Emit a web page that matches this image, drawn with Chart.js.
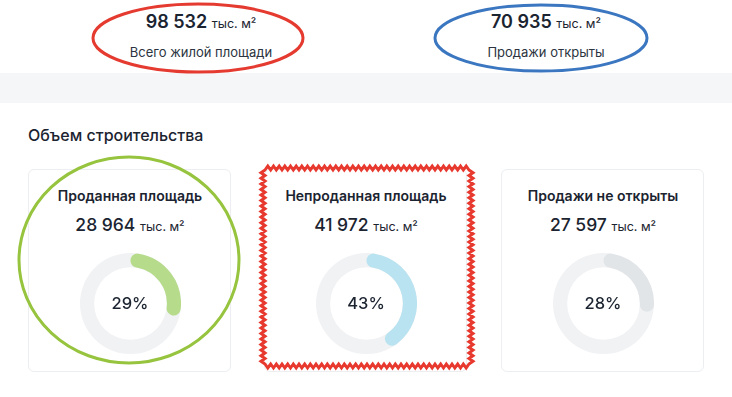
<!DOCTYPE html>
<html lang="ru">
<head>
<meta charset="utf-8">
<title>Объем строительства</title>
<script src="https://cdn.jsdelivr.net/npm/chart.js@4.4.0/dist/chart.umd.min.js"></script>
<style>
    html, body {
        margin: 0;
        padding: 0;
        width: 732px;
        height: 397px;
        background: #ffffff;
        font-family: Inter, Roboto, "Noto Sans", sans-serif;
        color: #1b2430;
        overflow: hidden;
    }
    .band {
        position: absolute;
        left: 0; top: 73px;
        width: 732px; height: 30px;
        background: #f5f6f8;
    }
    .stat, .stat-label, .card-title, .card-value {
        position: absolute;
        width: 300px;
        text-align: center;
        white-space: nowrap;
    }
    .stat { font-size: 18px; font-weight: 600; }
    .stat small { font-size: 12.5px; font-weight: 400; }
    .card-value small { font-size: 12.5px; font-weight: 400; }
    .stat-label { font-size: 13px; color: #2b3440; }
    .section-title {
        position: absolute;
        left: 28px; top: 125px;
        font-size: 16px; font-weight: 500;
    }
    .card {
        position: absolute;
        top: 169px;
        width: 203px; height: 203px;
        box-sizing: border-box;
        border: 1px solid #eceef1;
        border-radius: 6px;
    }
    .card-title { font-size: 14px; font-weight: 600; }
    .card-value { font-size: 17.5px; font-weight: 500; }
    .ring {
        position: absolute;
        width: 101px; height: 101px;
    }
    .pct {
        position: absolute;
        width: 101px;
        text-align: center;
        font-size: 16.5px; font-weight: 500;
        line-height: 101px;
    }
    svg.notes {
        position: absolute;
        left: 0; top: 0;
        pointer-events: none;
    }
</style>
</head>
<body>
<div class="band"></div>
<div id="page"></div>
<svg class="notes" width="732" height="397">
    <ellipse cx="198" cy="38" rx="105" ry="34" fill="none" stroke="#e53a2f" stroke-width="3"/>
    <ellipse cx="541" cy="38" rx="106" ry="33" fill="none" stroke="#3b76c0" stroke-width="3"/>
    <ellipse cx="129" cy="260" rx="110" ry="103" fill="none" stroke="#97c43e" stroke-width="3"/>
    <path id="zigzag" fill="none" stroke="#e8392f" stroke-width="3" stroke-linejoin="miter"/>
</svg>

<script>
const totalArea = 98532;          // Всего жилой площади
const openedArea = 70935;         // Продажи открыты
const categories = ['Проданная площадь', 'Непроданная площадь', 'Продажи не открыты'];
const areaValues = [28964, 41972, 27597];
const arcColors = ['#b6db8b', '#b9e3f0', '#e2e5e8'];
const trackColor = '#f1f2f4';
const unit = 'тыс. м²';

// Card centres on the page
const cardCenters = [130, 366, 603];

function formatNumber(n) {
    return String(n).replace(/\B(?=(\d{3})+(?!\d))/g, ' ');
}

function addEl(cls, html, left, top) {
    const el = document.createElement('div');
    el.className = cls;
    el.innerHTML = html;
    el.style.left = left + 'px';
    el.style.top = top + 'px';
    document.getElementById('page').appendChild(el);
    return el;
}

// Top stats
addEl('stat', formatNumber(totalArea) + ' <small>' + unit + '</small>', 201 - 150, 11);
addEl('stat-label', 'Всего жилой площади', 201 - 150, 44);
addEl('stat', formatNumber(openedArea) + ' <small>' + unit + '</small>', 546 - 150, 11);
addEl('stat-label', 'Продажи открыты', 546 - 150, 44);

addEl('section-title', 'Объем строительства', 28, 125);

// Full grey ring behind each doughnut
const trackPlugin = {
    id: 'track',
    beforeDatasetsDraw(chart) {
        const arc = chart.getDatasetMeta(0).data[0];
        if (!arc) return;
        const { x, y, innerRadius, outerRadius } = arc.getProps(['x', 'y', 'innerRadius', 'outerRadius'], true);
        const ctx = chart.ctx;
        ctx.save();
        ctx.beginPath();
        ctx.arc(x, y, outerRadius, 0, Math.PI * 2);
        ctx.arc(x, y, innerRadius, Math.PI * 2, 0, true);
        ctx.closePath();
        ctx.fillStyle = trackColor;
        ctx.fill();
        ctx.restore();
    }
};

categories.forEach((name, i) => {
    const cx = cardCenters[i];
    addEl('card', '', cx - 102, 169);

    addEl('card-title', name, cx - 150, 187);
    addEl('card-value', formatNumber(areaValues[i]) + ' <small>' + unit + '</small>', cx - 150, 214);

    const wrap = addEl('ring', '', cx - 50.5, 253);
    const canvas = document.createElement('canvas');
    wrap.appendChild(canvas);

    const pct = Math.round(areaValues[i] / totalArea * 100);
    addEl('pct', pct + '%', cx - 50.5, 253);

    new Chart(canvas.getContext('2d'), {
        type: 'doughnut',
        data: {
            labels: [name, ''],
            datasets: [{
                data: [areaValues[i], totalArea - areaValues[i]],
                backgroundColor: [arcColors[i], 'rgba(0,0,0,0)'],
                borderWidth: 0,
                borderRadius: ctx => ctx.dataIndex === 0 ? 7 : 0
            }]
        },
        options: {
            responsive: true,
            maintainAspectRatio: false,
            animation: false,
            cutout: '72%',
            rotation: 0,
            layout: { padding: 0 },
            plugins: {
                legend: { display: false },
                tooltip: { enabled: false }
            }
        },
        plugins: [trackPlugin]
    });
});

// Hand-drawn zigzag frame around the middle card
function zigzagPath(x0, y0, x1, y1, step, amp) {
    const pts = [];
    const edges = [
        [x0, y0, x1, y0, 0, -1],
        [x1, y0, x1, y1, 1, 0],
        [x1, y1, x0, y1, 0, 1],
        [x0, y1, x0, y0, -1, 0]
    ];
    edges.forEach(([ax, ay, bx, by, nx, ny]) => {
        const len = Math.hypot(bx - ax, by - ay);
        const n = Math.round(len / step / 2) * 2;
        for (let k = 0; k < n; k++) {
            const t = k / n;
            const off = (k % 2 === 0) ? 0 : amp;
            pts.push([ax + (bx - ax) * t + nx * off, ay + (by - ay) * t + ny * off]);
        }
    });
    return 'M' + pts.map(p => p[0].toFixed(1) + ' ' + p[1].toFixed(1)).join(' L') + ' Z';
}
document.getElementById('zigzag').setAttribute('d', zigzagPath(265, 170, 469, 364, 2.8, 4));
</script>
</body>
</html>
